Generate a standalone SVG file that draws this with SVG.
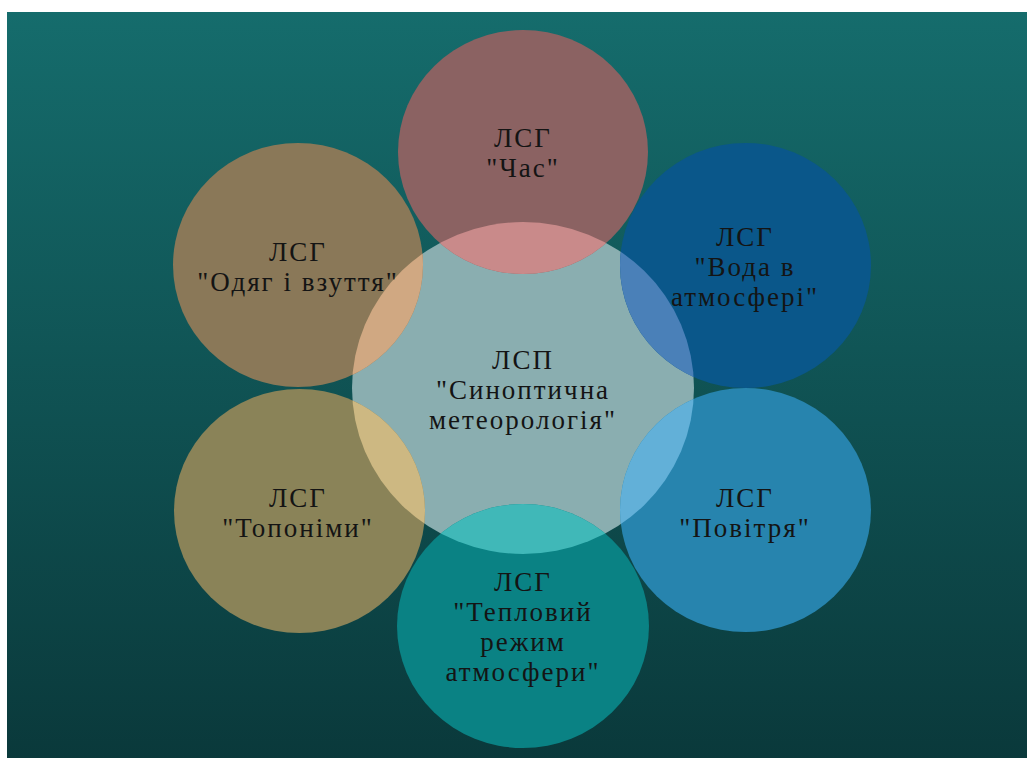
<svg xmlns="http://www.w3.org/2000/svg" width="1027" height="758" viewBox="0 0 1027 758">
  <defs>
    <linearGradient id="bg" x1="0" y1="0" x2="0" y2="1">
      <stop offset="0" stop-color="#156c6c"/>
      <stop offset="1" stop-color="#0a393b"/>
    </linearGradient>
    <clipPath id="centerClip">
      <ellipse cx="523" cy="388" rx="171" ry="166"/>
    </clipPath>
    <style>
      .lbl { font-family: "Liberation Serif", "DejaVu Serif", serif; font-size: 27px; letter-spacing: 2px; fill: #141414; text-anchor: middle; }
    </style>
  </defs>
  <rect x="0" y="0" width="1027" height="758" fill="#ffffff"/>
  <rect x="7" y="12" width="1020" height="746" fill="url(#bg)"/>

  <g id="node-center">
    <ellipse cx="523" cy="388" rx="171" ry="166" fill="#8aaeb0"/>
    <text class="lbl" x="523" y="369">ЛСП</text>
    <text class="lbl" x="523" y="399">"Синоптична</text>
    <text class="lbl" x="523" y="429">метеорологія"</text>
  </g>

  <g id="node-chas">
    <ellipse cx="523" cy="152" rx="125" ry="122" fill="#8b6262"/>
    <ellipse cx="523" cy="152" rx="125" ry="122" fill="#c98a8a" clip-path="url(#centerClip)"/>
    <text class="lbl" x="523" y="147">ЛСГ</text>
    <text class="lbl" x="523" y="177">"Час"</text>
  </g>

  <g id="node-odyag">
    <ellipse cx="298" cy="265" rx="125" ry="122" fill="#8a7858"/>
    <ellipse cx="298" cy="265" rx="125" ry="122" fill="#d0a882" clip-path="url(#centerClip)"/>
    <text class="lbl" x="298" y="261">ЛСГ</text>
    <text class="lbl" x="298" y="291">"Одяг і взуття"</text>
  </g>

  <g id="node-voda">
    <ellipse cx="745.5" cy="265.5" rx="125.5" ry="122.5" fill="#0a578a"/>
    <ellipse cx="745.5" cy="265.5" rx="125.5" ry="122.5" fill="#4a80b8" clip-path="url(#centerClip)"/>
    <text class="lbl" x="745" y="246">ЛСГ</text>
    <text class="lbl" x="745" y="276">"Вода в</text>
    <text class="lbl" x="745" y="306">атмосфері"</text>
  </g>

  <g id="node-toponimy">
    <ellipse cx="299.5" cy="511" rx="125.5" ry="122" fill="#8a8358"/>
    <ellipse cx="299.5" cy="511" rx="125.5" ry="122" fill="#cdb882" clip-path="url(#centerClip)"/>
    <text class="lbl" x="298" y="507">ЛСГ</text>
    <text class="lbl" x="298" y="537">"Топоніми"</text>
  </g>

  <g id="node-povitrya">
    <ellipse cx="745.5" cy="510" rx="125.5" ry="122" fill="#2784ae"/>
    <ellipse cx="745.5" cy="510" rx="125.5" ry="122" fill="#62b0d8" clip-path="url(#centerClip)"/>
    <text class="lbl" x="745" y="507">ЛСГ</text>
    <text class="lbl" x="745" y="537">"Повітря"</text>
  </g>

  <g id="node-teplovyi">
    <ellipse cx="523" cy="626" rx="126" ry="122" fill="#0a8284"/>
    <ellipse cx="523" cy="626" rx="126" ry="122" fill="#40b8b8" clip-path="url(#centerClip)"/>
    <text class="lbl" x="523" y="591">ЛСГ</text>
    <text class="lbl" x="523" y="621">"Тепловий</text>
    <text class="lbl" x="523" y="651">режим</text>
    <text class="lbl" x="523" y="681">атмосфери"</text>
  </g>

  <g id="connectors"/>
</svg>
